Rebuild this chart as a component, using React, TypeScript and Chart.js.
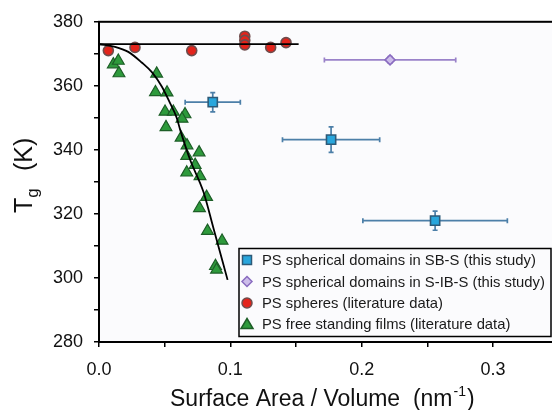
import React, { useEffect, useRef } from "react";
import { Chart, registerables } from "chart.js";

Chart.register(...registerables);

// PS spherical domains in SB-S (this study)
const sbsX = [0.0866, 0.1767, 0.2559];
const sbsY = [354.9, 343.2, 317.9];
const sbsXErr = [0.021, 0.037, 0.055];
const sbsYErr = [3, 4, 3];

// PS spherical domains in S-IB-S (this study)
const sibsX = [0.2216];
const sibsY = [368.1];
const sibsXErr = [0.05];
const sibsYErr = [1];

// PS spheres (literature data)
const sphX = [0.0071, 0.0274, 0.0706, 0.111, 0.111, 0.111, 0.1307, 0.1424];
const sphY = [371.0, 372.0, 371.0, 375.5, 374.2, 372.8, 372.0, 373.5];

// PS free standing films (literature data)
const filmX = [
  0.0109, 0.0147, 0.0152, 0.0439, 0.043, 0.0518, 0.0503, 0.0566, 0.0655, 0.0632,
  0.051, 0.0625, 0.067, 0.0762, 0.0668, 0.0732, 0.0668, 0.0769, 0.0819, 0.0765,
  0.0826, 0.0937, 0.0887, 0.0895,
];
const filmY = [
  366.7, 367.8, 363.9, 363.8, 358.0, 357.9, 351.9, 351.9, 351.1, 349.7,
  347.1, 343.8, 341.4, 339.2, 338.1, 335.3, 332.9, 331.8, 325.3, 321.8,
  314.7, 311.6, 303.7, 302.6,
];

// fitted curve
const fitX = [0, 0.0122, 0.0223, 0.0325, 0.0404, 0.0478, 0.0541, 0.0592, 0.0617, 0.0693, 0.0795, 0.0871, 0.0979];
const fitY = [373.0, 372.2, 370.6, 367.3, 364.2, 359.8, 354.6, 350.0, 346.4, 337.0, 326.9, 315.6, 299.4];

// bulk Tg line
const bulkX = [0, 0.152];
const bulkY = [373, 373];

const legendLabels = [
  "PS spherical domains in SB-S (this study)",
  "PS spherical domains in S-IB-S (this study)",
  "PS spheres (literature data)",
  "PS free standing films (literature data)",
];

const FONT = "'Liberation Sans', Arial, Helvetica, sans-serif";

const pts = (xs: number[], ys: number[]) => xs.map((x, i) => ({ x, y: ys[i] }));

const errorBarPlugin = {
  id: "errorBars",
  beforeDatasetsDraw(chart: any) {
    const ctx = chart.ctx;
    const xs = chart.scales.x;
    const ys = chart.scales.y;
    chart.data.datasets.forEach((ds: any) => {
      if (!ds.errX) return;
      ctx.save();
      ctx.strokeStyle = ds.errColor;
      ctx.lineWidth = 1.7;
      ds.data.forEach((p: any, i: number) => {
        const cx = xs.getPixelForValue(p.x);
        const cy = ys.getPixelForValue(p.y);
        const x0 = xs.getPixelForValue(p.x - ds.errX[i]);
        const x1 = xs.getPixelForValue(p.x + ds.errX[i]);
        const y0 = ys.getPixelForValue(p.y - ds.errY[i]);
        const y1 = ys.getPixelForValue(p.y + ds.errY[i]);
        const c = 2.5;
        ctx.beginPath();
        ctx.moveTo(x0, cy); ctx.lineTo(x1, cy);
        ctx.moveTo(x0, cy - c); ctx.lineTo(x0, cy + c);
        ctx.moveTo(x1, cy - c); ctx.lineTo(x1, cy + c);
        ctx.moveTo(cx, y0); ctx.lineTo(cx, y1);
        ctx.moveTo(cx - c, y0); ctx.lineTo(cx + c, y0);
        ctx.moveTo(cx - c, y1); ctx.lineTo(cx + c, y1);
        ctx.stroke();
      });
      ctx.restore();
    });
  },
};

const bgPlugin = {
  id: "plotBg",
  beforeDraw(chart: any) {
    const { ctx, chartArea: a } = chart;
    ctx.save();
    ctx.fillStyle = "#ffffff";
    ctx.fillRect(0, 0, chart.width, chart.height);
    ctx.fillStyle = "#fbfbfd";
    ctx.fillRect(a.left, a.top, a.right - a.left, a.bottom - a.top);
    ctx.restore();
  },
};

function drawMarker(ctx: CanvasRenderingContext2D, kind: string, x: number, y: number, fill: string, stroke: string) {
  ctx.save();
  ctx.fillStyle = fill;
  ctx.strokeStyle = stroke;
  ctx.lineWidth = 1.5;
  ctx.beginPath();
  if (kind === "rect") {
    ctx.rect(x - 4.5, y - 4.5, 9, 9);
  } else if (kind === "diamond") {
    ctx.moveTo(x, y - 5); ctx.lineTo(x + 5, y); ctx.lineTo(x, y + 5); ctx.lineTo(x - 5, y); ctx.closePath();
  } else if (kind === "circle") {
    ctx.arc(x, y, 5, 0, Math.PI * 2);
  } else {
    ctx.moveTo(x, y - 5.5); ctx.lineTo(x + 6, y + 4.5); ctx.lineTo(x - 6, y + 4.5); ctx.closePath();
  }
  ctx.fill();
  ctx.stroke();
  ctx.restore();
}

const overlayPlugin = {
  id: "overlay",
  afterDraw(chart: any) {
    const { ctx, chartArea: a } = chart;
    ctx.save();
    // frame
    ctx.strokeStyle = "#000";
    ctx.lineWidth = 2;
    ctx.strokeRect(a.left, a.top, a.right - a.left, a.bottom - a.top);

    // legend box
    const lx = 239, ly = 248.5, lw = 312, lh = 88;
    ctx.fillStyle = "#fbfbfd";
    ctx.fillRect(lx, ly, lw, lh);
    ctx.lineWidth = 1.5;
    ctx.strokeStyle = "#000";
    ctx.strokeRect(lx, ly, lw, lh);
    const kinds = ["rect", "diamond", "circle", "triangle"];
    const fills = ["#29a6dc", "#cdbdea", "#e3231b", "#2e9a3c"];
    const strokes = ["#2d5a78", "#8a6cc0", "#6f4c4c", "#1d5e27"];
    const rows = [260, 281.5, 303, 324];
    ctx.font = `14.8px ${FONT}`;
    ctx.textBaseline = "middle";
    ctx.textAlign = "left";
    legendLabels.forEach((t, i) => {
      drawMarker(ctx, kinds[i], 247, rows[i], fills[i], strokes[i]);
      ctx.fillStyle = "#1a1a1a";
      ctx.fillText(t, 262, rows[i] + 1);
    });

    // x title
    ctx.fillStyle = "#111";
    ctx.textBaseline = "alphabetic";
    ctx.font = `23px ${FONT}`;
    let x = 170;
    const base = 406;
    const s1 = "Surface Area / Volume  (nm";
    ctx.fillText(s1, x, base);
    x += ctx.measureText(s1).width;
    ctx.font = `14px ${FONT}`;
    ctx.fillText("-1", x + 1, base - 10);
    x += ctx.measureText("-1").width + 2;
    ctx.font = `23px ${FONT}`;
    ctx.fillText(")", x, base);

    // y title (rotated)
    ctx.translate(32, 213);
    ctx.rotate(-Math.PI / 2);
    ctx.font = `25px ${FONT}`;
    ctx.fillText("T", 0, 0);
    const yx = ctx.measureText("T").width;
    ctx.font = `17px ${FONT}`;
    ctx.fillText("g", yx, 6);
    ctx.font = `25px ${FONT}`;
    ctx.fillText("(K)", 42, 0);
    ctx.restore();
  },
};

export default function App() {
  const ref = useRef<HTMLCanvasElement>(null);
  useEffect(() => {
    if (!ref.current) return;
    const chart = new Chart(ref.current, {
      type: "scatter",
      data: {
        datasets: [
          {
            label: "bulk",
            data: pts(bulkX, bulkY),
            showLine: true,
            borderColor: "#000",
            borderWidth: 1.8,
            pointRadius: 0,
            order: 0,
          } as any,
          {
            label: "fit",
            data: pts(fitX, fitY),
            showLine: true,
            borderColor: "#000",
            borderWidth: 1.8,
            pointRadius: 0,
            cubicInterpolationMode: "monotone",
            order: 0,
          } as any,
          {
            label: legendLabels[0],
            data: pts(sbsX, sbsY),
            errX: sbsXErr,
            errY: sbsYErr,
            errColor: "#4c7fa8",
            pointStyle: "rect",
            pointRadius: 6.5,
            backgroundColor: "#29a6dc",
            borderColor: "#2d5a78",
            borderWidth: 1.6,
            order: 1,
          } as any,
          {
            label: legendLabels[1],
            data: pts(sibsX, sibsY),
            errX: sibsXErr,
            errY: sibsYErr,
            errColor: "#9a82c9",
            pointStyle: "rectRot",
            pointRadius: 5,
            backgroundColor: "#cdbdea",
            borderColor: "#8a6cc0",
            borderWidth: 1.6,
            order: 1,
          } as any,
          {
            label: legendLabels[2],
            data: pts(sphX, sphY),
            pointStyle: "circle",
            pointRadius: 5,
            backgroundColor: "#e3231b",
            borderColor: "#6f4c4c",
            borderWidth: 1.6,
            order: 1,
          } as any,
          {
            label: legendLabels[3],
            data: pts(filmX, filmY),
            pointStyle: "triangle",
            pointRadius: 6.8,
            backgroundColor: "#2e9a3c",
            borderColor: "#1d5e27",
            borderWidth: 1.2,
            order: 2,
          } as any,
        ],
      },
      options: {
        animation: false,
        responsive: false,
        maintainAspectRatio: false,
        layout: { padding: { top: 18, right: 21.3, bottom: 0, left: 0 } },
        plugins: { legend: { display: false }, tooltip: { enabled: false } },
        scales: {
          x: {
            type: "linear",
            min: 0,
            max: 0.35,
            afterFit: (s: any) => { s.height = 68; },
            grid: { drawOnChartArea: false, drawTicks: true, tickLength: 5, color: "#000", lineWidth: 1.5 },
            border: { display: true, color: "#000", width: 2 },
            ticks: {
              stepSize: 0.05,
              padding: 12,
              color: "#111",
              font: { family: FONT, size: 18 },
              maxRotation: 0,
              autoSkip: false,
              callback: (v: any) => (Math.round(Number(v) * 100) % 10 === 0 ? Number(v).toFixed(1) : ""),
            },
          },
          y: {
            type: "linear",
            min: 280,
            max: 380,
            afterFit: (s: any) => { s.width = 99; },
            grid: { drawOnChartArea: false, drawTicks: true, tickLength: 5, color: "#000", lineWidth: 1.5 },
            border: { display: true, color: "#000", width: 2 },
            ticks: {
              stepSize: 10,
              padding: 11,
              color: "#111",
              font: { family: FONT, size: 18 },
              autoSkip: false,
              callback: (v: any) => (Math.round(Number(v)) % 20 === 0 ? String(v) : ""),
            },
          },
        },
      } as any,
      plugins: [bgPlugin, errorBarPlugin, overlayPlugin],
    });
    return () => chart.destroy();
  }, []);

  return (
    <div style={{ position: "fixed", left: 0, top: 0, width: 552, height: 410, overflow: "hidden", background: "#fff" }}>
      <canvas ref={ref} width={580} height={410} style={{ display: "block" }} />
    </div>
  );
}
